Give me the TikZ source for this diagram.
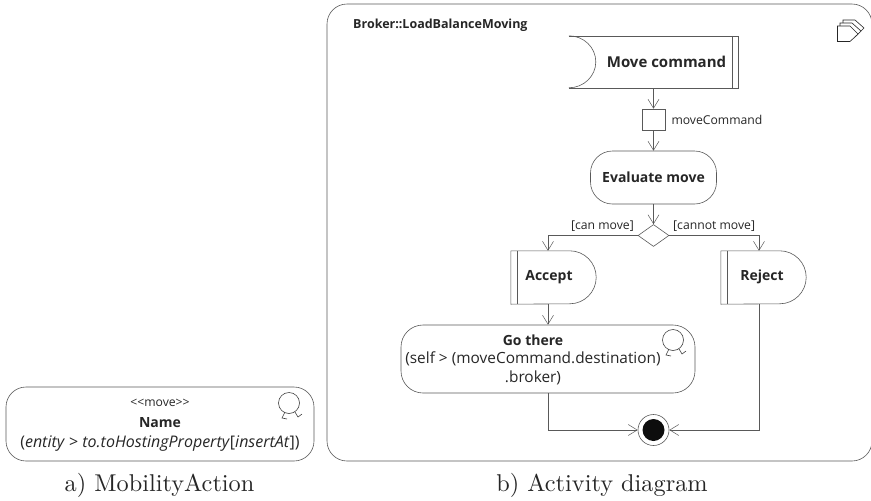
\documentclass[tikz,border=0pt]{standalone}
\usepackage{fontspec}
\newfontfamily\umlfont{Open Sans}
\usetikzlibrary{arrows.meta,calc,positioning,shapes.geometric}
\tikzset{
  umlline/.style={draw=black!65, line width=0.6pt},
  flow/.style={umlline, -{Straight Barb[length=9pt,width=11pt,line width=0.5pt]}},
  umlbox/.style={inner sep=0pt, font=\umlfont\fontsize{14}{18}\selectfont\bfseries\color{black!85}, align=center},
  umltxt/.style={inner sep=0pt, font=\umlfont\fontsize{15.4}{19}\selectfont\color{black!85}, align=center},
  umlsmall/.style={inner sep=0pt, font=\umlfont\fontsize{12.2}{14}\selectfont\color{black!85}},
  caption/.style={inner sep=0pt, scale=2.43, text=black!85},
}
% head with two feet
\newcommand{\moveicon}[2]{
  \draw[umlline, draw=black!75] (#1,#2) circle[radius=10.5];
  \draw[umlline, draw=black!75] (#1-4,#2+9) -- (#1-7,#2+15) -- (#1-2,#2+16);
  \draw[umlline, draw=black!75] (#1+6,#2+9) -- (#1+9,#2+14) -- (#1+13,#2+11);
}
\begin{document}
\begin{tikzpicture}[x=1pt,y=-1pt]
  \useasboundingbox (0,0) rectangle (871,501);
  % a) action
  \draw[umlline, rounded corners=20] (6,387) rectangle (314,461);
  \node[umlsmall] (stereo) at (160,402.5) {<<move>>};
  \node[umlbox] (actname) at (160,422.5) {Name};
  \node[umltxt, font=\umlfont\fontsize{16}{19}\selectfont\color{black!85}] (actargs) at (160,444) {(\textit{entity} > \textit{to.toHostingProperty}[\textit{insertAt}])};
  \moveicon{289}{403}
  \node[caption] (capa) at (159.5,485.5) {a) MobilityAction};
  % b) frame
  \draw[umlline, rounded corners=20] (327,461) rectangle (872,4);
  \node[umlbox, font=\umlfont\fontsize{12.5}{15}\selectfont\bfseries\color{black!85}, anchor=west] (framename) at (353,25.5) {Broker::LoadBalanceMoving};
  \node[caption] (capb) at (602,485.5) {b) Activity diagram};
  % nodes
  \node[minimum width=169, minimum height=52, inner sep=0pt] (move) at (653.5,62) {};
  \draw[umlline] (move.north west) -- (move.north east) -- (move.south east) -- (move.south west);
  \draw[umlline] (move.north west) arc[start angle=-90, end angle=90, x radius=27, y radius=26];
  \draw[umlline] ([xshift=-6]move.north east) -- ([xshift=-6]move.south east);
  \node[umlbox, font=\umlfont\fontsize{15}{18}\selectfont\bfseries\color{black!85}] (movetxt) at (666.5,61.5) {Move command};
  \node[umlline, draw, minimum width=23, minimum height=21, inner sep=0pt] (cmd) at (653.5,119.5) {};
  \node[umlsmall, right=6 of cmd] (cmdtxt) {moveCommand};
  \node[umlline, draw, rounded corners=22, minimum width=126, minimum height=53, umlbox] (eval) at (653.5,177.5) {Evaluate move};
  \node[umlline, draw, diamond, aspect=1.4, minimum width=31, minimum height=22, inner sep=0pt] (dec) at (653.5,235.5) {};
  \node[umlsmall, anchor=south east] (canlbl) at (634,232) {[can move]};
  \node[umlsmall, anchor=south west] (cannotlbl) at (673,232) {[cannot move]};
  \foreach \nm/\cx/\lbl/\tx in {accept/553.5/Accept/549,reject/763.5/Reject/762}{
    \node[minimum width=85, minimum height=53, inner sep=0pt] (\nm) at (\cx,277.5) {};
    \draw[umlline] (\nm.north west) -- ([xshift=-26.5]\nm.north east) arc[start angle=-90, end angle=90, radius=26.5] -- (\nm.south west) -- cycle;
    \draw[umlline] ([xshift=6]\nm.north west) -- ([xshift=6]\nm.south west);
    \node[umlbox] (\nm txt) at (\tx,277) {\lbl};
  }
  \node[umlline, draw, rounded corners=22, minimum width=294, minimum height=68, inner sep=0pt] (go) at (548,359) {};
  \node[umlbox] (gotxt) at (533,340) {Go there};
  \node[umltxt] (goargs) at (533,368.5) {(self > (moveCommand.destination)\\.broker)};
  \moveicon{673}{340}
  % final node
  \node[umlline, draw, circle, minimum size=31, inner sep=0pt] (final) at (653.5,430) {};
  \fill[black!95] (final) circle[radius=11];
  % activity icon
  \draw[umlline, draw=black!85, fill=white] (843,20) -- (855,20) -- (864,28) -- (857,35) -- (843,35) -- cycle;
  \draw[umlline, draw=black!85, fill=white] (840,23) -- (852,23) -- (861,31) -- (854,38) -- (840,38) -- cycle;
  \draw[umlline, draw=black!85, fill=white] (837.5,26) -- (850,26) -- (858,34) -- (850,41.5) -- (837.5,41.5) -- cycle;
  % connectors
  \draw[flow] (move) -- (cmd);
  \draw[flow] (cmd) -- (eval);
  \draw[flow] (eval) -- (dec);
  \draw[flow] (dec.west) -| ([xshift=-5.5]accept.north);
  \draw[flow] (dec.east) -| ([xshift=-4.5]reject.north);
  \draw[flow] ([xshift=-5.5]accept.south) -- (go.north);
  \draw[flow] (go.south) |- (final.west);
  \draw[flow] ([xshift=-4.5]reject.south) |- (final.east);
\end{tikzpicture}
\end{document}
